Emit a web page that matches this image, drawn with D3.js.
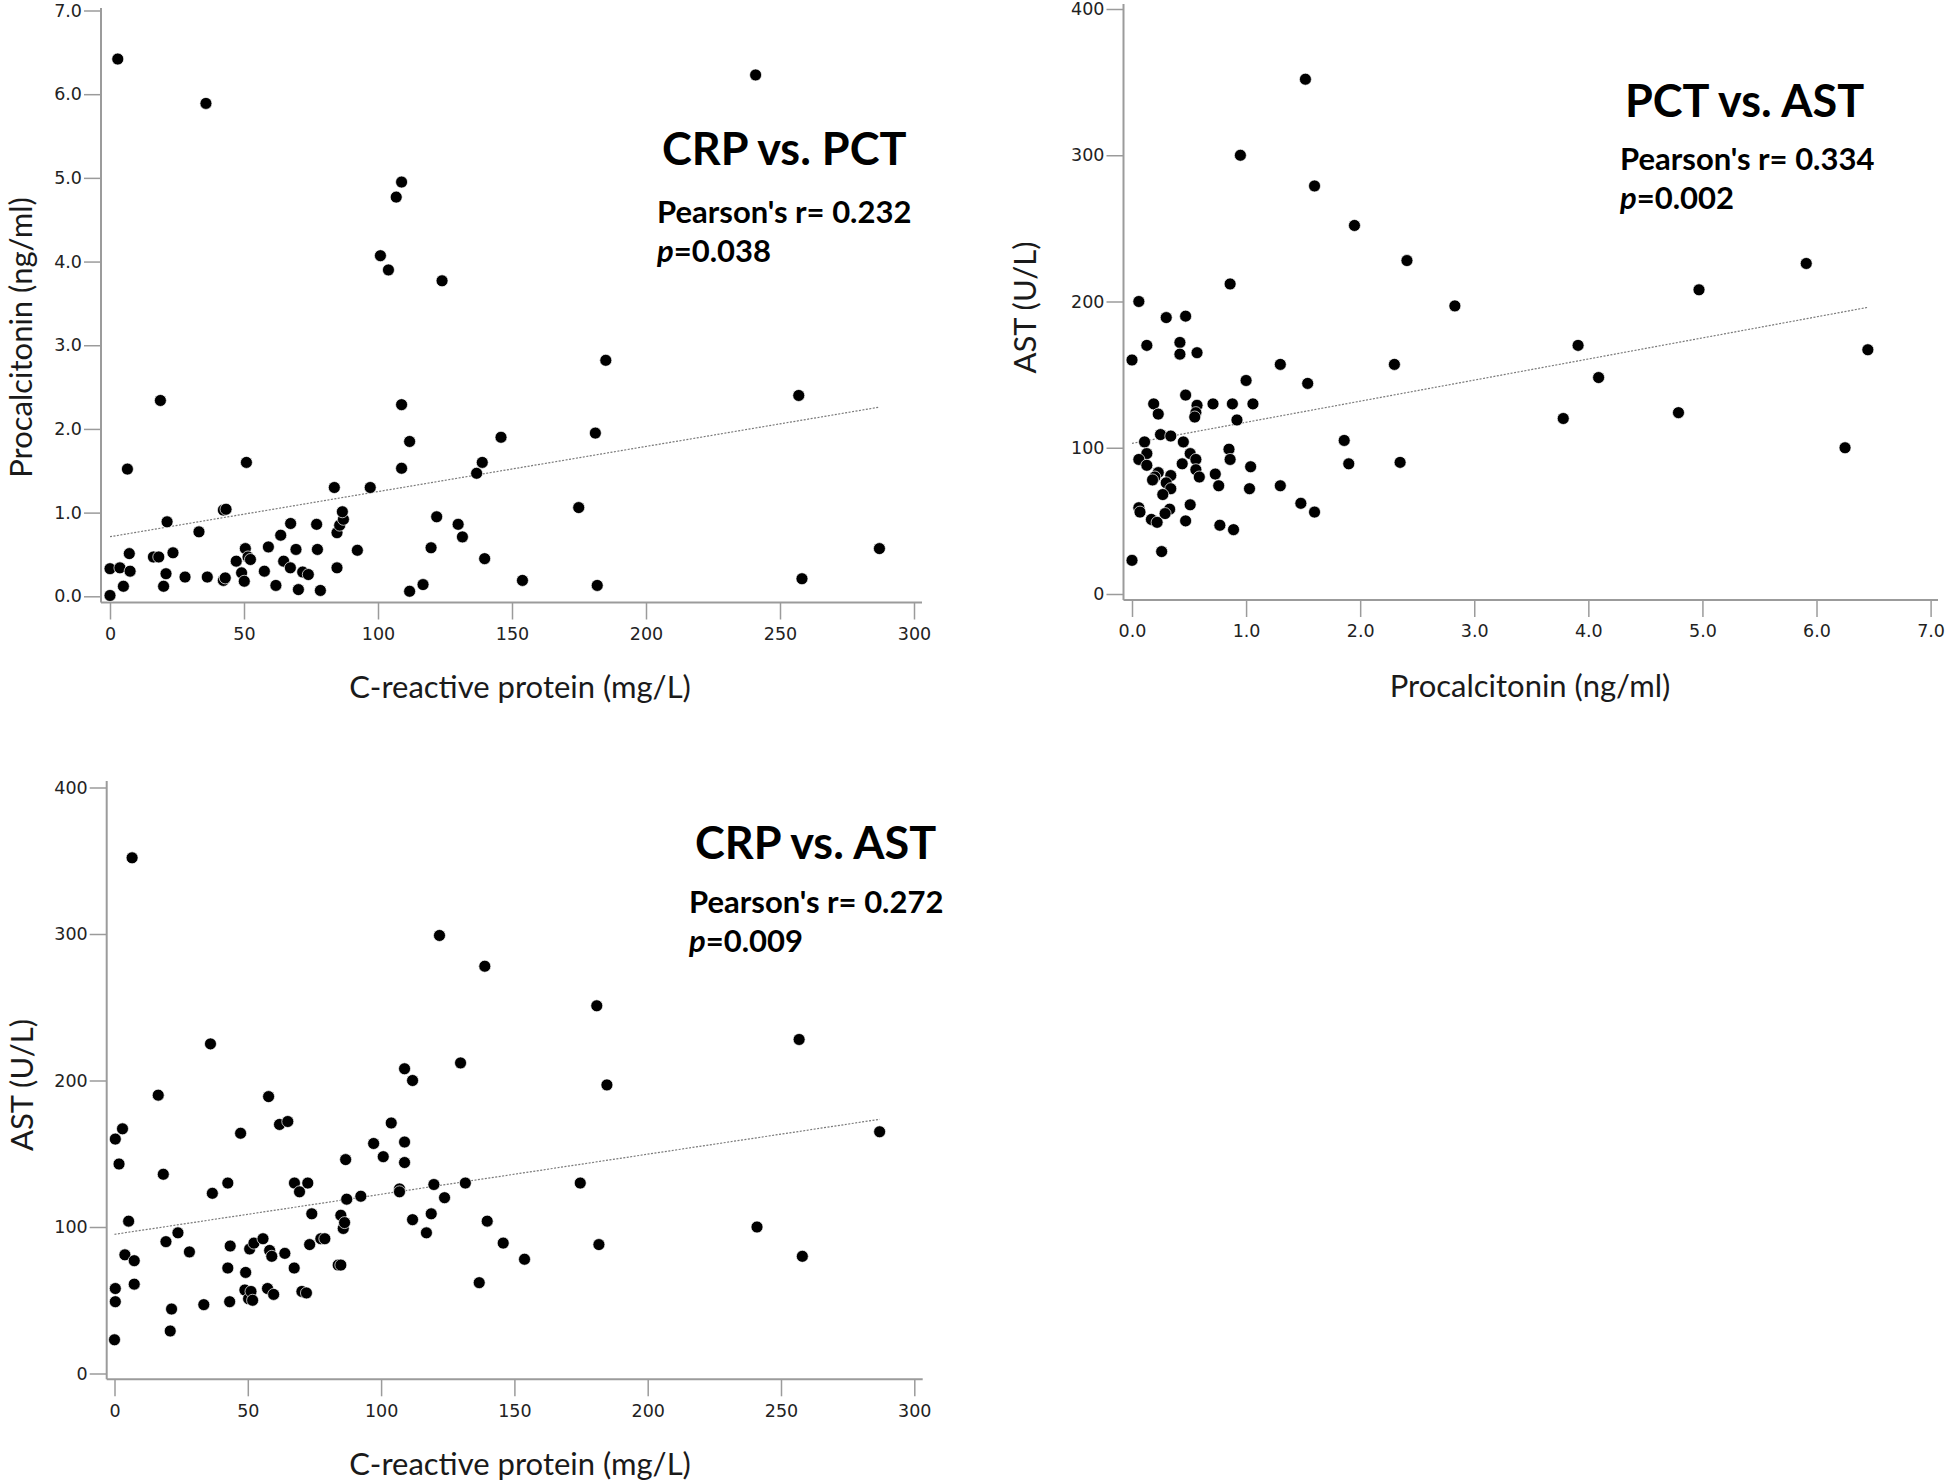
<!DOCTYPE html>
<html><head><meta charset="utf-8">
<script src="https://cdn.jsdelivr.net/npm/d3@7"></script>
<style>body{margin:0;background:#fff} svg{display:block}</style>
</head><body>
<svg id="chart" width="1946" height="1481"></svg>
<script>
// ---------- DATA ----------
const crpTicks = [0, 50, 100, 150, 200, 250, 300];
const pctTicks = [0, 1, 2, 3, 4, 5, 6, 7];
const astTicks = [0, 100, 200, 300, 400];

// CRP (mg/L) vs PCT (ng/ml)
const pctVsCrp = [
 [0,0.01],[0,0.33],[3.7,0.34],[5,0.12],[7.5,0.30],[7.2,0.51],[6.5,1.52],[18.8,2.34],[16.2,0.47],[18.2,0.47],
 [21.3,0.89],[20.9,0.27],[20,0.12],[23.5,0.52],[28,0.23],[33.2,0.77],[36.3,0.23],[42.3,0.19],[43,0.22],[42.3,1.03],
 [43.3,1.04],[50.9,1.60],[47.1,0.42],[49.1,0.28],[50.1,0.18],[50.5,0.57],[51.5,0.47],[52.4,0.44],[57.6,0.30],[59.1,0.59],
 [61.9,0.13],[63.7,0.73],[64.8,0.42],[67.3,0.34],[67.4,0.87],[69.4,0.56],[70.3,0.08],[71.9,0.29],[74,0.26],[77.1,0.86],
 [77.4,0.56],[78.5,0.07],[83.7,1.30],[84.7,0.34],[84.7,0.76],[85.7,0.85],[87.1,0.92],[86.7,1.01],[92.3,0.55],[97.1,1.30],
 [108.8,2.29],[111.8,1.85],[108.8,1.53],[111.8,0.06],[116.8,0.14],[119.8,0.58],[121.9,0.95],[129.9,0.86],[131.5,0.71],[136.8,1.47],
 [138.9,1.60],[139.8,0.45],[145.9,1.90],[153.9,0.19],[174.9,1.06],[181.1,1.95],[181.8,0.13],[108.8,4.95],[106.8,4.77],[100.9,4.07],
 [103.9,3.90],[123.9,3.77],[185,2.82],[2.9,6.42],[35.8,5.89],[240.9,6.23],[257,2.40],[287.1,0.57],[258.2,0.21]
];

// PCT (ng/ml) vs AST (U/L)
const astVsPct = [
 [0.0,23],[0.26,29],[0.0,160],[0.06,200],[0.13,170],[0.30,189],[0.47,190],[0.42,172],[0.42,164],[0.57,165],
 [0.86,212],[1.30,157],[1.00,146],[1.54,144],[2.30,157],[2.41,228],[2.83,197],[0.47,136],[0.19,130],[0.23,123],
 [0.57,129],[0.56,124],[0.55,121],[0.71,130],[0.88,130],[1.06,130],[0.92,119],[0.25,109],[0.34,108],[0.11,104],
 [0.45,104],[0.13,96],[0.06,92],[0.13,88],[0.51,96],[0.56,92],[0.44,89],[0.56,85],[0.59,80],[0.85,99],
 [0.86,92],[1.04,87],[0.73,82],[0.76,74],[1.03,72],[1.30,74],[1.86,105],[1.90,89],[2.35,90],[1.48,62],
 [1.60,56],[0.23,83],[0.20,80],[0.18,78],[0.34,81],[0.30,76],[0.34,72],[0.27,68],[0.06,59],[0.07,56],
 [0.33,58],[0.29,55],[0.51,61],[0.17,51],[0.22,49],[0.47,50],[0.77,47],[0.89,44],
 [1.52,352],[0.95,300],[1.60,279],[1.95,252],[3.78,120],[3.91,170],[4.09,148],[4.79,124],[4.97,208],[5.91,226],
 [6.45,167],[6.25,100]
];

// CRP (mg/L) vs AST (U/L)
const astVsCrp = [
 [0,23],[0.3,49],[0.3,58],[0.3,160],[1.7,143],[3,167],[5.3,104],[3.9,81],[7.4,77],[7.4,61],
 [16.4,190],[18.3,136],[19.3,90],[23.8,96],[21.4,44],[20.9,29],[28.1,83],[33.5,47],[36,225],[36.7,123],
 [42.5,130],[43.4,87],[42.5,72],[43.2,49],[47.3,164],[49.2,69],[48.9,57],[50.3,51],[51.2,56],[51.8,50],
 [50.7,85],[52.3,89],[55.7,92],[57.8,189],[58.2,84],[59,80],[57.4,58],[59.7,54],[61.9,170],[65,172],
 [63.9,82],[67.5,130],[69.4,124],[72.5,130],[67.4,72],[70.3,56],[72,55],[74,109],[73.2,88],[77.4,92],
 [78.9,92],[83.9,74],[84.9,74],[84.9,108],[85.8,99],[86.3,103],[87.1,119],[86.7,146],[92.4,121],[97.2,157],
 [100.8,148],[103.8,171],[108.8,208],[111.8,200],[108.8,158],[108.8,144],[106.9,126],[106.9,124],[111.8,105],[117,96],
 [118.8,109],[119.8,129],[123.8,120],[129.8,212],[131.6,130],[136.8,62],[139.8,104],[145.8,89],[153.8,78],[174.7,130],
 [181.7,88],[180.9,251],[184.7,197],[6.6,352],[121.9,299],[138.9,278],[256.8,228],[287,165],[241,100],[258,80]
];

// fit line end points
const fitPctVsCrp = [[0,0.712],[287,2.26]];
const fitAstVsPct = [[0,103],[6.45,196]];
const fitAstVsCrp = [[0,95],[287,173.5]];

// text
const titles = ["CRP vs. PCT", "PCT vs. AST", "CRP vs. AST"];
const pearson = ["Pearson's r= 0.232", "Pearson's r= 0.334", "Pearson's r= 0.272"];
const pValues = ["=0.038", "=0.002", "=0.009"];
const xTitles = ["C-reactive protein (mg/L)", "Procalcitonin (ng/ml)", "C-reactive protein (mg/L)"];
const yTitles = ["Procalcitonin (ng/ml)", "AST (U/L)", "AST (U/L)"];

// ---------- LAYOUT ----------
const panels = [
 { data: pctVsCrp, fit: fitPctVsCrp, xDom:[0,300], yDom:[0,7], xTicks: crpTicks, yTicks: pctTicks,
   xFmt: d3.format("d"), yFmt: d3.format(".1f"),
   xR:[110,914], yR:[596.3,10.5], axX:101, axY:602.5, axXEnd:922, axYTop:8,
   xt:[520,698], yt:[32,337.5], t:[662,165], s1:[657,222.7], s2:[657,261.7] },
 { data: astVsPct, fit: fitAstVsPct, xDom:[0,7], yDom:[0,400], xTicks: pctTicks, yTicks: astTicks,
   xFmt: d3.format(".1f"), yFmt: d3.format("d"),
   xR:[1132,1930.6], yR:[594,9], axX:1123.5, axY:600, axXEnd:1938, axYTop:4,
   xt:[1530,697], yt:[1036,307.5], t:[1625,117], s1:[1620,170], s2:[1620,209] },
 { data: astVsCrp, fit: fitAstVsCrp, xDom:[0,300], yDom:[0,400], xTicks: crpTicks, yTicks: astTicks,
   xFmt: d3.format("d"), yFmt: d3.format("d"),
   xR:[114.5,914.3], yR:[1373.5,787.5], axX:106.7, axY:1379.3, axXEnd:922.7, axYTop:781,
   xt:[520,1475], yt:[33,1085], t:[695,858.9], s1:[689,913], s2:[689,952.2] }
];

const svg = d3.select("#chart");
const axisColor = "#9b9b9b";
const tickFont = "'DejaVu Sans', Verdana, sans-serif";
const labFont = "Lato, 'Open Sans', sans-serif";

panels.forEach((p, i) => {
  const x = d3.scaleLinear().domain(p.xDom).range(p.xR);
  const y = d3.scaleLinear().domain(p.yDom).range(p.yR);
  const g = svg.append("g");

  // axes ticks
  const gx = g.append("g").attr("transform", `translate(0,${p.axY})`)
    .call(d3.axisBottom(x).tickValues(p.xTicks).tickFormat(p.xFmt).tickSize(17).tickPadding(8).tickSizeOuter(0));
  const gy = g.append("g").attr("transform", `translate(${p.axX},0)`)
    .call(d3.axisLeft(y).tickValues(p.yTicks).tickFormat(p.yFmt).tickSize(17).tickPadding(2).tickSizeOuter(0));
  [gx, gy].forEach(a => {
    a.select(".domain").remove();
    a.selectAll(".tick line").attr("stroke", axisColor).attr("stroke-width", 1.5);
    a.selectAll(".tick text").attr("fill", "#222").style("font-family", tickFont).style("font-size", "17.5px");
  });
  // axis lines
  g.append("line").attr("x1", p.axX).attr("x2", p.axXEnd).attr("y1", p.axY).attr("y2", p.axY)
    .attr("stroke", axisColor).attr("stroke-width", 2);
  g.append("line").attr("x1", p.axX).attr("x2", p.axX).attr("y1", p.axYTop).attr("y2", p.axY)
    .attr("stroke", axisColor).attr("stroke-width", 2);

  // fit line
  g.append("path").datum(p.fit)
    .attr("d", d3.line().x(d => x(d[0])).y(d => y(d[1])))
    .attr("fill", "none").attr("stroke", "#7a7a7a").attr("stroke-width", 1.2)
    .attr("stroke-dasharray", "2,1.5");

  // points
  g.append("g").selectAll("circle").data(p.data).join("circle")
    .attr("cx", d => x(d[0])).attr("cy", d => y(d[1])).attr("r", 6)
    .attr("fill", "#000").attr("stroke", "#fff").attr("stroke-width", 0.7);

  // axis titles
  g.append("text").attr("x", p.xt[0]).attr("y", p.xt[1]).attr("text-anchor", "middle")
    .style("font-family", labFont).style("font-size", "31px").attr("fill", "#1a1a1a").text(xTitles[i]);
  g.append("text").attr("transform", `translate(${p.yt[0]},${p.yt[1]}) rotate(-90)`).attr("text-anchor", "middle")
    .style("font-family", labFont).style("font-size", "31px").attr("fill", "#1a1a1a").text(yTitles[i]);

  // titles and stats
  g.append("text").attr("x", p.t[0]).attr("y", p.t[1])
    .style("font-family", labFont).style("font-weight", 700).style("font-size", "45px").attr("fill", "#000").text(titles[i]);
  g.append("text").attr("x", p.s1[0]).attr("y", p.s1[1])
    .style("font-family", labFont).style("font-weight", 700).style("font-size", "31px").attr("fill", "#000").text(pearson[i]);
  const pt = g.append("text").attr("x", p.s2[0]).attr("y", p.s2[1])
    .style("font-family", labFont).style("font-weight", 700).style("font-size", "31px").attr("fill", "#000");
  pt.append("tspan").style("font-style", "italic").text("p");
  pt.append("tspan").text(pValues[i]);
});
</script>
</body></html>
